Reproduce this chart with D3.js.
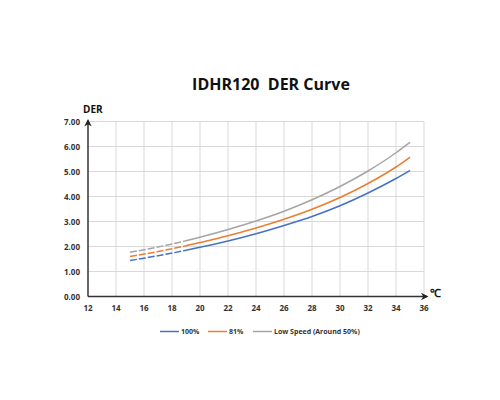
<!DOCTYPE html>
<html lang="en">
<head>
  <meta charset="UTF-8">
  <title>IDHR120 DER Curve</title>
  <script src="https://d3js.org/d3.v7.min.js"></script>
  <style>
    body { margin: 0; background: #fff; }
    text { font-family: "Open Sans", "Liberation Sans", sans-serif; fill: #333; }
    .grid line { stroke: #d9d9d9; stroke-width: 1; }
    .tick-label { font-size: 8px; font-weight: bold; }
  </style>
</head>
<body>
  <svg width="500" height="400"></svg>

  <script>
    // Data
    const temps = [15, 17, 19, 20, 22, 24, 26, 28, 30, 32, 34, 35];
    const der100 = [1.44, 1.63, 1.85, 1.97, 2.22, 2.51, 2.84, 3.20, 3.63, 4.14, 4.72, 5.04];
    const der81 = [1.60, 1.80, 2.03, 2.16, 2.43, 2.74, 3.09, 3.49, 3.96, 4.52, 5.18, 5.57];
    const derLow = [1.77, 1.98, 2.23, 2.37, 2.68, 3.02, 3.41, 3.87, 4.40, 5.02, 5.75, 6.17];
    const dashedUntil = 19;

    const xTicks = [12, 14, 16, 18, 20, 22, 24, 26, 28, 30, 32, 34, 36];
    const yTicks = [0, 1, 2, 3, 4, 5, 6, 7];

    const series = [
      { name: "100%", values: der100, color: "#4472C4" },
      { name: "81%", values: der81, color: "#ED7D31" },
      { name: "Low Speed (Around 50%)", values: derLow, color: "#A5A5A5" }
    ];

    const svg = d3.select("svg");

    const x = d3.scaleLinear().domain([12, 36]).range([88, 424]);
    const y = d3.scaleLinear().domain([0, 7]).range([296.5, 121.5]);

    // Title (two spaces kept on purpose)
    svg.append("text")
      .attr("x", 271).attr("y", 90)
      .attr("text-anchor", "middle")
      .style("white-space", "pre")
      .style("font-size", "16px").style("font-weight", "bold")
      .style("fill", "#111")
      .text("IDHR120  DER Curve");

    // Gridlines
    const grid = svg.append("g").attr("class", "grid");
    grid.selectAll(".v").data(xTicks.slice(1)).enter().append("line")
      .attr("x1", d => x(d)).attr("x2", d => x(d))
      .attr("y1", y(7)).attr("y2", y(0));
    grid.selectAll(".h").data(yTicks.slice(1)).enter().append("line")
      .attr("x1", x(12)).attr("x2", x(36))
      .attr("y1", d => y(d)).attr("y2", d => y(d));

    // Tick labels
    svg.append("g").selectAll("text").data(yTicks).enter().append("text")
      .attr("class", "tick-label")
      .attr("x", 80).attr("y", d => y(d) + 3)
      .attr("text-anchor", "end")
      .text(d => d.toFixed(2));

    svg.append("g").selectAll("text").data(xTicks).enter().append("text")
      .attr("class", "tick-label")
      .attr("x", d => x(d)).attr("y", 311)
      .attr("text-anchor", "middle")
      .text(d => d);

    // Axis lines with arrows
    svg.append("defs").append("marker")
      .attr("id", "arrow")
      .attr("viewBox", "0 0 10 10")
      .attr("refX", 8).attr("refY", 5)
      .attr("markerWidth", 5).attr("markerHeight", 5)
      .attr("orient", "auto")
      .append("path")
      .attr("d", "M0,0 L10,5 L0,10 L3,5 Z")
      .attr("fill", "#222");

    svg.append("line")
      .attr("x1", x(12)).attr("y1", y(0))
      .attr("x2", x(12)).attr("y2", y(7) - 1)
      .attr("stroke", "#333").attr("stroke-width", 1.5)
      .attr("marker-end", "url(#arrow)");
    svg.append("line")
      .attr("x1", x(12)).attr("y1", y(0))
      .attr("x2", x(36) + 3).attr("y2", y(0))
      .attr("stroke", "#333").attr("stroke-width", 1.5)
      .attr("marker-end", "url(#arrow)");

    // Axis titles
    svg.append("text")
      .attr("x", 83).attr("y", 113)
      .style("font-size", "10px").style("font-weight", "bold")
      .style("fill", "#111")
      .text("DER");
    svg.append("text")
      .attr("x", 430).attr("y", 297)
      .style("font-size", "11px").style("font-weight", "bold")
      .style("fill", "#111")
      .text("℃");

    // Curves: dashed part at the low end, solid after
    const line = d3.line()
      .x(d => x(d[0])).y(d => y(d[1]))
      .curve(d3.curveMonotoneX);

    series.forEach(s => {
      const pts = temps.map((t, i) => [t, s.values[i]]);
      svg.append("path")
        .attr("d", line(pts.filter(p => p[0] <= dashedUntil)))
        .attr("fill", "none")
        .attr("stroke", s.color).attr("stroke-width", 1.5)
        .attr("stroke-dasharray", "7,2");
      svg.append("path")
        .attr("d", line(pts.filter(p => p[0] >= dashedUntil)))
        .attr("fill", "none")
        .attr("stroke", s.color).attr("stroke-width", 1.5);
    });

    // Legend
    const legendX = [160, 208, 253];
    const legend = svg.append("g");
    series.forEach((s, i) => {
      legend.append("line")
        .attr("x1", legendX[i]).attr("x2", legendX[i] + 19)
        .attr("y1", 331.5).attr("y2", 331.5)
        .attr("stroke", s.color).attr("stroke-width", 1.5);
      legend.append("text")
        .attr("x", legendX[i] + 21).attr("y", 334)
        .style("font-size", "7px").style("font-weight", "bold")
        .text(s.name);
    });
  </script>
</body>
</html>
